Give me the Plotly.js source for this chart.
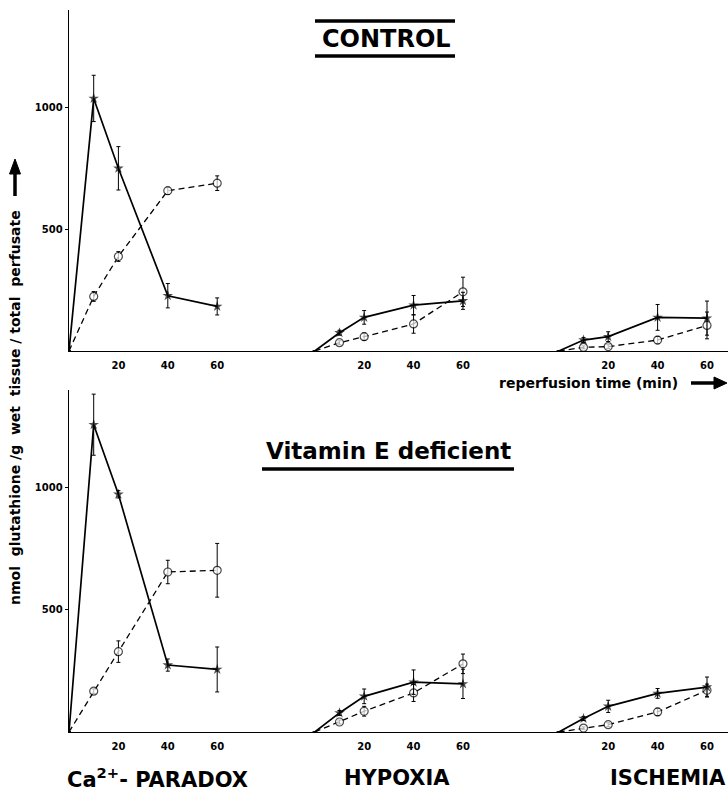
<!DOCTYPE html>
<html>
<head>
<meta charset="utf-8">
<script src="https://cdn.plot.ly/plotly-3.0.1.min.js"></script>
<style>html,body{margin:0;padding:0;background:#fff;}#chart{width:728px;height:805px;}</style>
</head>
<body>
<div id="chart"></div>
<script>
// ---- data ----
const times = [0, 10, 20, 40, 60];
const tickTimes = [20, 40, 60];
const tickText = ["20", "40", "60"];
const groupNames = ["Ca<sup>2+</sup>- PARADOX", "HYPOXIA", "ISCHEMIA"];
const panelTitles = ["CONTROL", "Vitamin E deficient"];
const yTickVals = [500, 1000];
const yTickText = ["500", "1000"];

// CONTROL
const ctrlCaStar      = [0, 1037, 750, 227, 183];
const ctrlCaStarErr   = [0, 95, 89, 50, 35];
const ctrlCaCircle    = [0, 224, 388, 658, 689];
const ctrlCaCircleErr = [0, 20, 20, 15, 30];
const ctrlHypStar      = [0, 75, 138, 188, 206];
const ctrlHypStarErr   = [0, 10, 28, 40, 35];
const ctrlHypCircle    = [0, 34, 59, 111, 243];
const ctrlHypCircleErr = [0, 8, 15, 38, 60];
const ctrlIscStar      = [0, 45, 59, 138, 135];
const ctrlIscStarErr   = [0, 10, 20, 53, 70];
const ctrlIscCircle    = [0, 15, 18, 45, 105];
const ctrlIscCircleErr = [0, 6, 8, 15, 55];

// VITAMIN E DEFICIENT
const veCaStar      = [0, 1258, 973, 274, 256];
const veCaStarErr   = [0, 125, 15, 25, 92];
const veCaCircle    = [0, 167, 329, 655, 662];
const veCaCircleErr = [0, 10, 44, 48, 110];
const veHypStar      = [0, 78, 146, 204, 197];
const veHypStarErr   = [0, 10, 30, 50, 60];
const veHypCircle    = [0, 41, 85, 160, 279];
const veHypCircleErr = [0, 8, 20, 35, 40];
const veIscStar      = [0, 55, 105, 158, 184];
const veIscStarErr   = [0, 8, 25, 20, 41];
const veIscCircle    = [0, 16, 30, 82, 171];
const veIscCircleErr = [0, 5, 8, 15, 25];

// ---- layout constants ----
const groupOffset = [0, 99.5, 198.3];   // horizontal offset of each group on the shared axis
const xMax = 266.8;
const W = 728, H = 805;
const M = {l: 69, r: 0, t: 10, b: 73};
const PW = W - M.l - M.r, PH = H - M.t - M.b;
const px = x => (x - M.l) / PW;
const py = y => (H - M.b - y) / PH;

const bold = "DejaVu Sans, Liberation Sans, sans-serif";

function series(vals, errs, g, axisIdx, kind) {
  const xs = times.map(t => t + groupOffset[g]);
  const star = kind === "star";
  return {
    type: "scatter", mode: "lines+markers",
    x: xs, y: vals,
    xaxis: axisIdx === 1 ? "x" : "x2",
    yaxis: axisIdx === 1 ? "y" : "y2",
    line: star ? {color: "#000", width: 1.7} : {color: "#000", width: 1.3, dash: "6px,4px"},
    marker: star
      ? {symbol: "star", size: times.map(t => t === 0 ? 0 : 8), color: "#000", line: {width: 0}}
      : {symbol: "circle", size: times.map(t => t === 0 ? 0 : 8), color: "#fff", line: {color: "#000", width: 1.2}},
    error_y: {type: "data", array: errs, visible: true, color: "#000", thickness: 1, width: 2},
    showlegend: false, hoverinfo: "skip"
  };
}

const data = [
  series(ctrlCaCircle, ctrlCaCircleErr, 0, 1, "circle"),
  series(ctrlCaStar, ctrlCaStarErr, 0, 1, "star"),
  series(ctrlHypCircle, ctrlHypCircleErr, 1, 1, "circle"),
  series(ctrlHypStar, ctrlHypStarErr, 1, 1, "star"),
  series(ctrlIscCircle, ctrlIscCircleErr, 2, 1, "circle"),
  series(ctrlIscStar, ctrlIscStarErr, 2, 1, "star"),
  series(veCaCircle, veCaCircleErr, 0, 2, "circle"),
  series(veCaStar, veCaStarErr, 0, 2, "star"),
  series(veHypCircle, veHypCircleErr, 1, 2, "circle"),
  series(veHypStar, veHypStarErr, 1, 2, "star"),
  series(veIscCircle, veIscCircleErr, 2, 2, "circle"),
  series(veIscStar, veIscStarErr, 2, 2, "star")
];

const tickvals = [];
const ticktext = [];
groupOffset.forEach(o => tickTimes.forEach((t, i) => { tickvals.push(o + t); ticktext.push(tickText[i]); }));

function xAxis(anchor) {
  return {
    anchor: anchor, domain: [0, 1], range: [0, xMax],
    showline: true, linecolor: "#000", linewidth: 1.3,
    showgrid: false, zeroline: false, ticks: "",
    ticklabelstandoff: 5,
    tickvals: tickvals, ticktext: ticktext,
    tickfont: {family: bold, size: 10, color: "#000", weight: "bold"}
  };
}
function yAxis(anchor, domain) {
  return {
    anchor: anchor, domain: domain, range: [0, 1400],
    showline: true, linecolor: "#000", linewidth: 1.3,
    showgrid: false, zeroline: false,
    ticks: "outside", ticklen: 3, tickcolor: "#000",
    tickvals: yTickVals, ticktext: yTickText,
    tickfont: {family: bold, size: 10, color: "#000", weight: "bold"}
  };
}

const topDomain = [py(351), 1];
const botDomain = [0, py(390)];

function label(x, y, text, size, extra) {
  return Object.assign({xref: "paper", yref: "paper", x: px(x), y: py(y), text: text, showarrow: false,
    xanchor: "center", yanchor: "middle",
    font: {family: bold, size: size, color: "#000", weight: "bold"}}, extra || {});
}

const annotations = [
  label(386, 39, panelTitles[0], 24),
  label(388, 451, panelTitles[1], 23),
  label(497, 383, "reperfusion time (min)", 14, {xanchor: "left"}),
  label(15, 408, "nmol\u00A0 glutathione /g\u00A0 wet\u00A0 tissue / total\u00A0 perfusate", 14, {textangle: -90}),
  label(157, 778, groupNames[0], 21),
  label(397, 778, groupNames[1], 21),
  label(728, 778, groupNames[2], 21, {xanchor: "right"})
];

function seg(x0, y0, x1, y1, w) {
  return {type: "line", xref: "paper", yref: "paper", x0: px(x0), x1: px(x1), y0: py(y0), y1: py(y1), line: {color: "#000", width: w}};
}
function tri(pts) {
  const d = "M" + pts.map(p => px(p[0]) + "," + py(p[1])).join(" L") + " Z";
  return {type: "path", xref: "paper", yref: "paper", path: d, fillcolor: "#000", line: {color: "#000", width: 1}};
}

const shapes = [
  seg(315, 21, 455, 21, 3.5),
  seg(315, 56, 455, 56, 3.5),
  seg(262, 469, 514, 469, 3.5),
  // horizontal arrow after "reperfusion time (min)"
  seg(691, 383, 716, 383, 3.5),
  tri([[714, 377], [727, 383], [714, 389]]),
  // vertical arrow at top of y title
  seg(15, 196, 15, 172, 3.5),
  tri([[9.5, 174], [15, 159], [20.5, 174]])
];

const layout = {
  width: W, height: H, margin: M,
  paper_bgcolor: "#fff", plot_bgcolor: "#fff",
  font: {family: bold, color: "#000"},
  xaxis: xAxis("y"), yaxis: yAxis("x", topDomain),
  xaxis2: xAxis("y2"), yaxis2: yAxis("x2", botDomain),
  annotations: annotations, shapes: shapes, showlegend: false
};

Plotly.newPlot("chart", data, layout, {staticPlot: true, displayModeBar: false});
</script>
</body>
</html>
